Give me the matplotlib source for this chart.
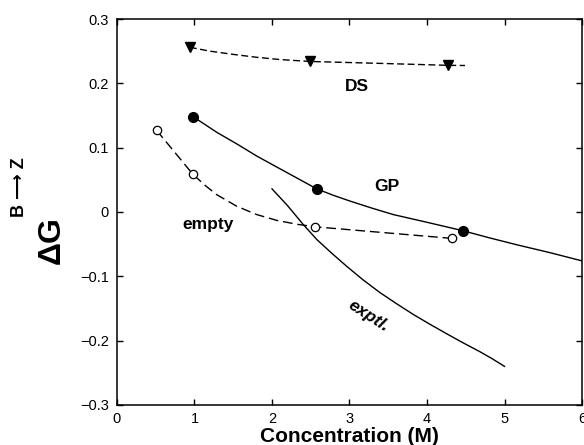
import matplotlib
matplotlib.use("Agg")
import matplotlib.pyplot as plt

plt.rcParams['font.family'] = ['Liberation Sans', 'DejaVu Sans']

# markers
ds_x = [0.94, 2.49, 4.27]
ds_y = [0.256, 0.234, 0.228]
gp_x = [0.985, 2.577, 4.46]
gp_y = [0.148, 0.036, -0.029]
empty_x = [0.511, 0.977, 2.555, 4.32]
empty_y = [0.127, 0.059, -0.023, -0.041]

# curves traced through the markers
ds_curve_x = [0.94, 1.2, 1.5, 1.8, 2.1, 2.49, 3.4, 4.27, 4.49]
ds_curve_y = [0.256, 0.250, 0.245, 0.2405, 0.237, 0.234, 0.231, 0.228, 0.2277]
gp_curve_x = [0.985, 1.286, 1.544, 1.803, 2.06, 2.319, 2.577, 2.79, 3.006, 3.29,
              3.565, 4.0, 4.46, 4.8, 5.16, 5.58, 6.0]
gp_curve_y = [0.148, 0.124, 0.106, 0.087, 0.070, 0.053, 0.036, 0.026, 0.017, 0.006,
              -0.004, -0.016, -0.029, -0.040, -0.051, -0.063, -0.076]
empty_curve_x = [0.511, 0.977, 1.13, 1.286, 1.544, 1.803, 2.06, 2.319, 2.555, 4.32]
empty_curve_y = [0.127, 0.059, 0.042, 0.027, 0.009, -0.004, -0.013, -0.019, -0.023, -0.041]
exptl_x = [2.0, 2.2, 2.4, 2.58, 2.77, 2.96, 3.17, 3.39, 3.6, 3.82, 4.03, 4.25,
           4.46, 4.68, 4.84, 5.0]
exptl_y = [0.036, 0.010, -0.019, -0.043, -0.064, -0.084, -0.105, -0.125, -0.142,
           -0.159, -0.174, -0.189, -0.203, -0.217, -0.228, -0.240]

xticks = [0, 1, 2, 3, 4, 5, 6]
yticks = [-0.3, -0.2, -0.1, 0, 0.1, 0.2, 0.3]
ytick_labels = ['\u22120.3', '\u22120.2', '\u22120.1', '0', '0.1', '0.2', '0.3']

fig = plt.figure(figsize=(5.84, 4.45), dpi=100)
ax = fig.add_axes([0.2003, 0.0899, 0.7963, 0.8674])

ax.plot(ds_curve_x, ds_curve_y, color='black', lw=1.0, dashes=(5, 2.5))
ax.plot(ds_x, ds_y, 'v', color='black', ms=7)

ax.plot(gp_curve_x, gp_curve_y, color='black', lw=1.0)
ax.plot(gp_x, gp_y, 'o', color='black', ms=7)

ax.plot(empty_curve_x, empty_curve_y, color='black', lw=1.0, dashes=(7, 3.5))
ax.plot(empty_x, empty_y, 'o', mfc='white', mec='black', mew=0.9, ms=6)

ax.plot(exptl_x, exptl_y, color='black', lw=1.0)

ax.text(3.10, 0.195, 'DS', fontsize=12.5, fontweight='bold', ha='center', va='center')
ax.text(3.48, 0.040, 'GP', fontsize=12.5, fontweight='bold', ha='center', va='center')
ax.text(1.17, -0.020, 'empty', fontsize=12.5, fontweight='bold', ha='center', va='center')
ax.text(3.24, -0.162, 'exptl.', fontsize=12.5, fontweight='bold', style='italic',
        rotation=-33, ha='center', va='center')

ax.set_xlim(0, 6)
ax.set_ylim(-0.3, 0.3)
ax.set_xticks(xticks)
ax.set_yticks(yticks)
ax.set_yticklabels(ytick_labels)
ax.tick_params(direction='in', length=4, width=1, top=True, right=True, labelsize=10.5)
ax.tick_params(axis='y', pad=6)
ax.tick_params(axis='x', pad=5)
for s in ax.spines.values():
    s.set_linewidth(1.1)

ax.set_xlabel('Concentration (M)', fontsize=15, fontweight='bold', labelpad=1)

fig.text(52 / 584, 1 - 240 / 445, '\u0394G', fontsize=23, fontweight='bold',
         rotation=90, ha='center', va='center')
fig.text(20 / 584, 1 - 187 / 445, 'B \u27f6 Z', fontsize=13, fontweight='bold',
         rotation=90, ha='center', va='center')

fig.savefig('out.png', dpi=100)
